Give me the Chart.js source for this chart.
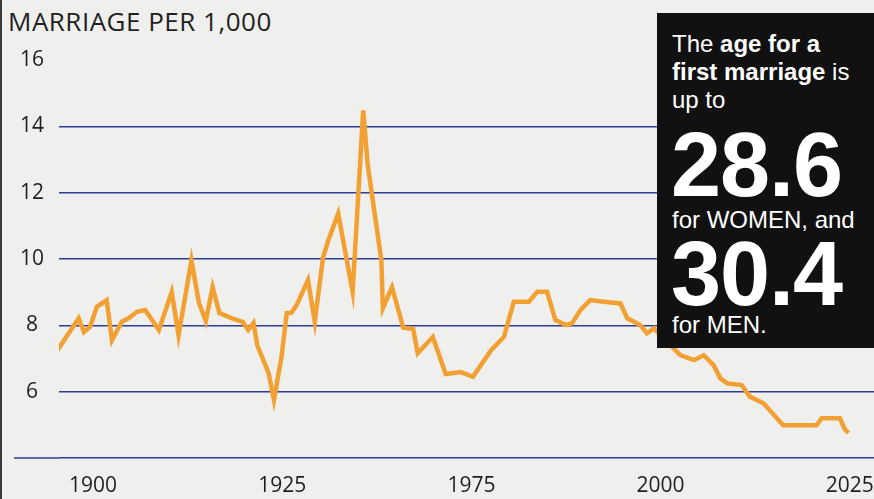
<!DOCTYPE html>
<html>
<head>
<meta charset="utf-8">
<script src="https://cdn.jsdelivr.net/npm/chart.js@4.4.1/dist/chart.umd.min.js"></script>
<style>
  body { margin: 0; background: #efefed; }
  #wrap { position: relative; width: 874px; height: 499px; background: #efefed; overflow: hidden; border-left: 2px solid #3a3a3a; box-sizing: border-box; }
  #title { position: absolute; left: 6px; top: 8px; font: 26px/26px "Open Sans", sans-serif; color: #1f1f1f; letter-spacing: 0.5px; white-space: nowrap; }
  canvas { position: absolute; left: -2px; top: 0; }
  #callout { position: absolute; left: 655px; top: 13px; width: 217px; height: 335px; background: #111; color: #fff; font-family: "Liberation Sans", Arial, sans-serif; }
  #callout div { position: absolute; left: 15px; white-space: nowrap; font-size: 24px; line-height: 24px; }
  #callout b { font-weight: bold; }
  #callout .big { font-size: 90px; line-height: 90px; font-weight: bold; letter-spacing: -1px; left: 14px; }
</style>
</head>
<body>
<div id="wrap">
  <div id="title">MARRIAGE PER 1,000</div>
  <canvas id="marriageChart" width="874" height="499"></canvas>
  <div id="callout">
    <div style="top:18.7px">The <b>age for a</b></div>
    <div style="top:46.7px"><b>first marriage</b> is</div>
    <div style="top:74.7px">up to</div>
    <div class="big" style="top:107px">28.6</div>
    <div style="top:194.7px">for WOMEN, and</div>
    <div class="big" style="top:216px">30.4</div>
    <div style="top:299.7px">for MEN.</div>
  </div>
</div>
<script>
// horizontal position: 25 units between printed year labels
var xTickPos = [0, 25, 50, 75, 100];
var xTickLabels = ["1900", "1925", "1975", "2000", "2025"];
var yMin = 4;
var yMax = 16;

var linePos = [
    -4.7, -1.9, -1.2, -0.4, 0.5, 1.8, 2.5, 3.8, 4.7, 5.8, 6.9, 8.7, 10.4, 11.3, 13.0, 14.0,
    14.9, 15.8, 16.7, 18.3, 19.8, 20.5, 21.2, 21.7, 22.5, 23.2, 23.9, 24.9, 25.6, 26.2, 26.9,
    28.4, 29.3, 30.4, 31.1, 32.4, 34.3, 35.7, 36.3, 38.1, 38.3, 39.5, 41.0, 42.3, 42.9, 44.9,
    46.6, 48.6, 50.2, 52.6, 54.3, 55.6, 57.6, 58.7, 60.0, 61.1, 62.5, 63.3, 64.4, 65.7, 67.5,
    69.7, 70.6, 72.3, 73.2, 74.1, 77.6, 79.4, 80.7, 82.0, 82.9, 83.8, 85.7, 86.8, 88.6, 91.2,
    95.6, 96.3, 98.7, 99.3, 99.8
];
var marriageRate = [
    7.25, 8.21, 7.80, 7.95, 8.56, 8.76, 7.55, 8.11, 8.21, 8.41, 8.46, 7.86, 9.01, 7.70, 9.96, 8.67,
    8.13, 9.15, 8.37, 8.22, 8.10, 7.86, 8.07, 7.40, 6.95, 6.56, 5.75, 7.04, 8.37, 8.38, 8.61,
    9.36, 8.11, 10.06, 10.57, 11.37, 9.01, 14.48, 12.83, 9.96, 8.52, 9.15, 7.93, 7.89, 7.16, 7.65,
    6.53, 6.59, 6.45, 7.25, 7.65, 8.71, 8.71, 9.01, 9.01, 8.16, 8.01, 8.06, 8.46, 8.76, 8.71,
    8.66, 8.21, 8.01, 7.76, 7.91, 7.10, 6.95, 7.10, 6.80, 6.40, 6.25, 6.20, 5.85, 5.65, 4.99,
    4.99, 5.20, 5.20, 4.89, 4.75
];

var gridBlue = "#2d3f92";

var baselineExtension = {
    id: "baselineExtension",
    beforeDatasetsDraw: function (chart) {
        var ctx = chart.ctx;
        var y = chart.scales.y.getPixelForValue(yMin);
        ctx.save();
        ctx.strokeStyle = gridBlue;
        ctx.lineWidth = 1.5;
        ctx.beginPath();
        ctx.moveTo(14, y);
        ctx.lineTo(chart.chartArea.left, y);
        ctx.stroke();
        ctx.restore();
    },
};

var points = linePos.map(function (x, i) {
    return { x: x, y: marriageRate[i] };
});

new Chart(document.getElementById("marriageChart"), {
    type: "line",
    data: {
        datasets: [
            {
                data: points,
                borderColor: "#f2a031",
                borderWidth: 4.5,
                pointRadius: 0,
                tension: 0,
                borderJoinStyle: "miter",
            },
        ],
    },
    plugins: [baselineExtension],
    options: {
        responsive: false,
        animation: false,
        layout: { padding: { top: 60, right: 0, left: 0, bottom: 0 } },
        plugins: { legend: { display: false }, tooltip: { enabled: false } },
        scales: {
            x: {
                type: "linear",
                min: -4.5,
                max: 103.2,
                afterBuildTicks: function (scale) {
                    scale.ticks = xTickPos.map(function (v) {
                        return { value: v };
                    });
                },
                afterFit: function (scale) {
                    scale.height = 41;
                    scale.paddingRight = 0;
                    scale.paddingLeft = 0;
                },
                ticks: {
                    autoSkip: false,
                    maxRotation: 0,
                    padding: 7,
                    color: "#1f1f1f",
                    font: { family: "Open Sans", size: 21 },
                    callback: function (value) {
                        var i = xTickPos.indexOf(value);
                        return i >= 0 ? xTickLabels[i] : "";
                    },
                },
                grid: { display: false },
                border: { display: false },
            },
            y: {
                min: yMin,
                max: yMax,
                afterFit: function (scale) {
                    scale.width = 59;
                },
                ticks: {
                    stepSize: 2,
                    crossAlign: "center",
                    padding: 15,
                    color: "#1f1f1f",
                    font: { family: "Open Sans", size: 21 },
                    callback: function (value) {
                        return value === yMin ? "" : value;
                    },
                },
                grid: {
                    drawTicks: false,
                    lineWidth: 1.5,
                    color: function (c) {
                        return c.tick && c.tick.value === yMax ? "rgba(0,0,0,0)" : gridBlue;
                    },
                },
                border: { display: false },
            },
        },
    },
});
</script>
</body>
</html>
